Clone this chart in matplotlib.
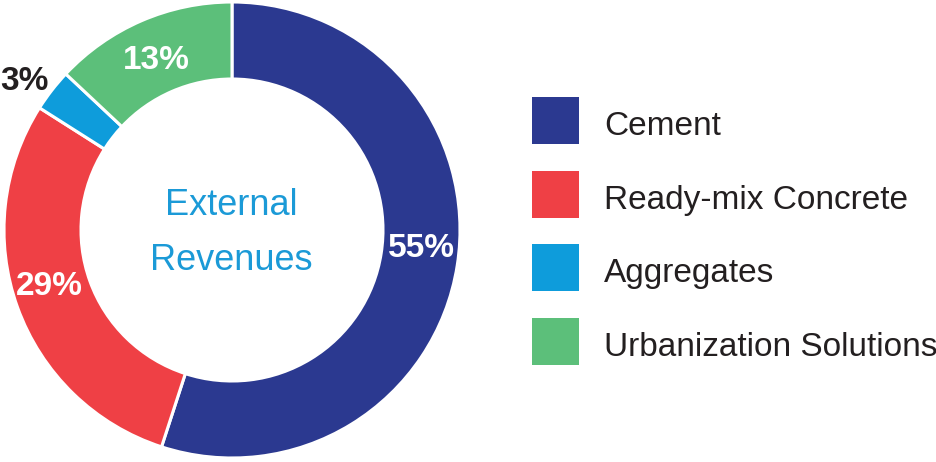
import numpy as np
import matplotlib
matplotlib.use("Agg")
import matplotlib.pyplot as plt
from matplotlib.patches import Rectangle

plt.rcParams['font.family'] = ['Liberation Sans', 'DejaVu Sans']

# Data
categories = ["Cement", "Ready-mix Concrete", "Aggregates", "Urbanization Solutions"]
shares = [55, 29, 3, 13]
pct_labels = ["55%", "29%", "3%", "13%"]
colors = ["#2B3990", "#EF4045", "#0E9CDB", "#5CBF7A"]
center_text = "External\nRevenues"

W, H = 937, 462
fig = plt.figure(figsize=(W / 100, H / 100), dpi=100)
ax = fig.add_axes([0, 0, 1, 1])

cx, cy, R, ring = 232, H - 230, 228, 77
wedges, _ = ax.pie(shares, colors=colors, startangle=90, counterclock=False,
                   radius=R, center=(cx, cy),
                   wedgeprops=dict(width=ring, edgecolor="white", linewidth=2.2))

# label placement (style): angle nudge (deg), radius factor, color
angle_shift = [4.5, -3.8, 1.5, 0.3]
rad_factor = [0.833, 0.835, 1.13, 0.83]
label_colors = ["white", "white", "#231F20", "white"]
for w, lab, sh, rf, lc in zip(wedges, pct_labels, angle_shift, rad_factor, label_colors):
    ang = np.deg2rad((w.theta1 + w.theta2) / 2 + sh)
    ax.text(cx + rf * R * np.cos(ang), cy + rf * R * np.sin(ang) - 4, lab,
            ha="center", va="center", fontsize=24, fontweight="bold", color=lc)

ax.text(cx - 1, cy - 3, center_text, ha="center", va="center", fontsize=26,
        color="#1B9AD7", linespacing=1.75)

# Legend
sq = 47
tops = [97, 171, 244, 318]
for top, cat, col in zip(tops, categories, colors):
    ax.add_patch(Rectangle((532, H - top - sq), sq, sq, facecolor=col, edgecolor="none"))
    ax.text(604, H - top - 38, cat, ha="left", va="baseline", fontsize=24,
            color="#231F20")

ax.set_xlim(0, W)
ax.set_ylim(0, H)
ax.set_aspect("equal")
ax.axis("off")
fig.savefig("out.png", dpi=100)
